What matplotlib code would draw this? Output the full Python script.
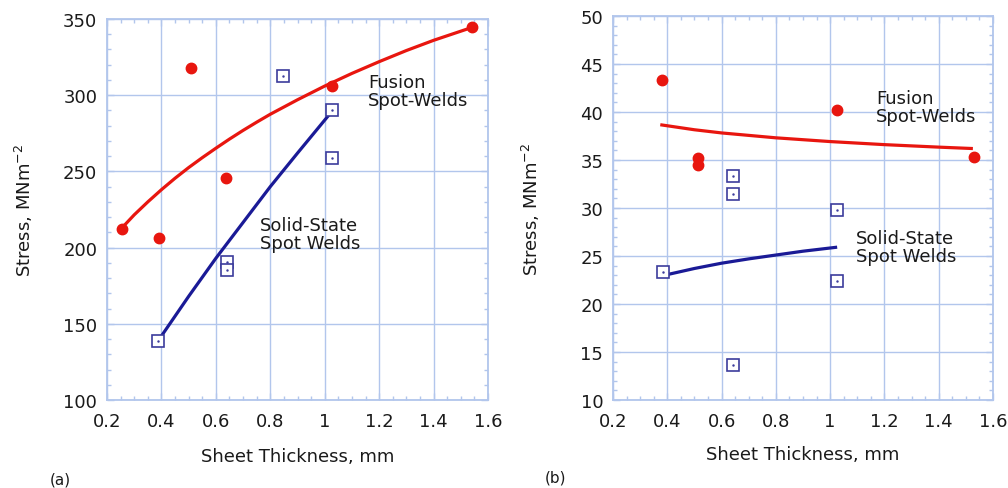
import matplotlib
matplotlib.use("Agg")
import matplotlib.pyplot as plt
from matplotlib.ticker import MultipleLocator

plt.rcParams['font.family'] = ['DejaVu Sans']
plt.rcParams['mathtext.fontset'] = 'dejavusans'

# ---- Panel (a) data ----
a_fusion_x = [0.254, 0.391, 0.509, 0.638, 1.028, 1.543]
a_fusion_y = [212, 206.5, 318, 245.5, 306, 344.5]
a_fusion_fit_x = [0.25, 0.3, 0.35, 0.4, 0.45, 0.5, 0.55, 0.6, 0.65, 0.7, 0.75, 0.8,
                  0.9, 1.0, 1.1, 1.2, 1.3, 1.4, 1.55]
a_fusion_fit_y = [212, 221.5, 230, 238, 245.5, 252.5, 259, 265.2, 271.2, 276.9, 282.3, 287.5,
                  297, 306, 314.3, 322, 329.3, 336, 345]
a_solid_x = [0.386, 0.641, 0.641, 0.848, 1.028, 1.028]
a_solid_y = [138.5, 190.5, 185.5, 312.5, 290.5, 259]
a_solid_fit_x = [0.4, 0.5, 0.6, 0.7, 0.8, 0.9, 1.02]
a_solid_fit_y = [142, 168, 193, 216.5, 240, 262, 288]

# ---- Panel (b) data ----
b_fusion_x = [0.382, 0.512, 0.512, 1.026, 1.531]
b_fusion_y = [43.3, 35.2, 34.5, 40.2, 35.3]
b_fusion_fit_x = [0.38, 0.5, 0.6, 0.8, 1.0, 1.2, 1.4, 1.52]
b_fusion_fit_y = [38.65, 38.15, 37.82, 37.31, 36.92, 36.6, 36.34, 36.2]
b_solid_x = [0.384, 0.641, 0.641, 0.641, 1.026, 1.026]
b_solid_y = [23.3, 33.3, 31.5, 13.6, 29.8, 22.4]
b_solid_fit_x = [0.39, 0.5, 0.6, 0.7, 0.8, 0.9, 1.02]
b_solid_fit_y = [23.0, 23.7, 24.25, 24.7, 25.1, 25.5, 25.9]

x_ticks = [0.2, 0.4, 0.6, 0.8, 1.0, 1.2, 1.4, 1.6]
x_tick_labels = ["0.2", "0.4", "0.6", "0.8", "1", "1.2", "1.4", "1.6"]

RED = "#e8160f"
BLUE_LINE = "#1a1a96"
BLUE_MK = "#3c3c9c"
GRID = "#b2c6ec"
TXT = "#1a1a1a"
FS = 13

fig = plt.figure(figsize=(10.08, 4.89), dpi=100)
ax_a = fig.add_axes([107/1008, 1-401/489, 381/1008, 381/489])
ax_b = fig.add_axes([613/1008, 1-401/489, 380/1008, 384/489])


def style(ax, ylim, ymaj, ymin, ylab_x, xlab_y):
    ax.set_xlim(0.2, 1.6)
    ax.set_ylim(*ylim)
    ax.set_xticks(x_ticks)
    ax.set_xticklabels(x_tick_labels)
    ax.xaxis.set_minor_locator(MultipleLocator(0.05))
    ax.yaxis.set_major_locator(MultipleLocator(ymaj))
    ax.yaxis.set_minor_locator(MultipleLocator(ymin))
    ax.grid(True, which='major', color=GRID, linewidth=1.0)
    ax.set_axisbelow(True)
    for s in ax.spines.values():
        s.set_color(GRID)
        s.set_linewidth(1.3)
    ax.tick_params(which='both', direction='in', top=True, right=True, color=GRID,
                   labelcolor=TXT, labelsize=FS)
    ax.tick_params(which='major', length=5, width=1, pad=7)
    ax.tick_params(axis='x', which='major', pad=9)
    ax.tick_params(which='minor', length=3, width=1)
    ax.set_xlabel("Sheet Thickness, mm", fontsize=FS, color=TXT)
    ax.set_ylabel("Stress, MNm$^{-2}$", fontsize=FS, color=TXT)
    ax.yaxis.set_label_coords(ylab_x, 0.5)
    ax.yaxis.label.set_va('center')
    ax.xaxis.set_label_coords(0.5, xlab_y)
    ax.xaxis.label.set_va('center')


def draw(ax, fx, fy, ffx, ffy, sx, sy, sfx, sfy):
    ax.plot(ffx, ffy, color=RED, linewidth=2.3, zorder=3, solid_joinstyle='round')
    ax.plot(sfx, sfy, color=BLUE_LINE, linewidth=2.3, zorder=3, solid_joinstyle='round')
    ax.plot(fx, fy, 'o', color=RED, markersize=7.5, zorder=4, linestyle='none')
    ax.plot(sx, sy, 's', markerfacecolor='white', markeredgecolor=BLUE_MK,
            markeredgewidth=1.2, markersize=8, zorder=4, linestyle='none')
    ax.plot(sx, sy, '.', color=BLUE_MK, markersize=1.5, zorder=5, linestyle='none')


style(ax_a, (100, 350), 50, 10, -0.218, -0.147)
draw(ax_a, a_fusion_x, a_fusion_y, a_fusion_fit_x, a_fusion_fit_y,
     a_solid_x, a_solid_y, a_solid_fit_x, a_solid_fit_y)
ax_a.text(1.16, 303, "Fusion\nSpot-Welds", fontsize=FS, color=TXT, ha='left', va='center',
          linespacing=1.0)
ax_a.text(0.763, 209, "Solid-State\nSpot Welds", fontsize=FS, color=TXT, ha='left', va='center',
          linespacing=1.0)

style(ax_b, (10, 50), 5, 1, -0.215, -0.141)
draw(ax_b, b_fusion_x, b_fusion_y, b_fusion_fit_x, b_fusion_fit_y,
     b_solid_x, b_solid_y, b_solid_fit_x, b_solid_fit_y)
ax_b.text(1.169, 40.57, "Fusion\nSpot-Welds", fontsize=FS, color=TXT, ha='left', va='center',
          linespacing=1.0)
ax_b.text(1.095, 25.96, "Solid-State\nSpot Welds", fontsize=FS, color=TXT, ha='left', va='center',
          linespacing=1.0)

fig.text(60/1008, 1-480/489, "(a)", fontsize=11, color=TXT, ha='center', va='center')
fig.text(555/1008, 1-478/489, "(b)", fontsize=11, color=TXT, ha='center', va='center')

fig.savefig("out.png", dpi=100)
